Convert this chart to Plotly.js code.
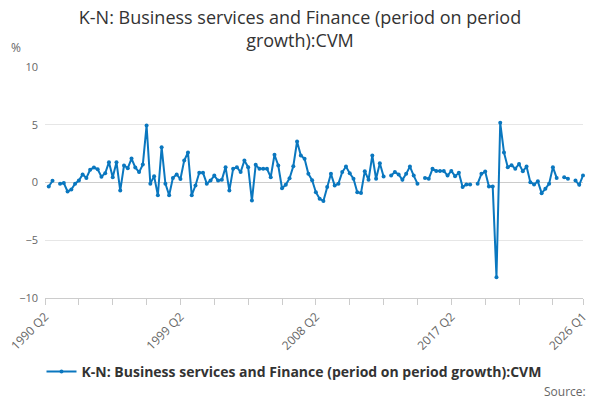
<!DOCTYPE html>
<html>
<head>
<meta charset="utf-8">
<script src="https://cdn.plot.ly/plotly-3.0.1.min.js"></script>
<style>
  body { margin: 0; background: #fff; }
  #chart { width: 600px; height: 400px; }
</style>
</head>
<body>
<div id="chart"></div>
<script>
// quarterly series, 1990 Q2 .. 2026 Q1 (null = no value published)
let firstYear = 1990;
let firstQuarter = 2;
let growth = [
  null, -0.35, 0.15, null, -0.1, -0.05, -0.78, -0.6, -0.1, 0.17,
  0.7, 0.4, 1.1, 1.3, 1.15, 0.5, 0.8, 1.76, 0.46, 1.76,
  -0.7, 1.47, 1.24, 2.07, 1.3, 0.9, 1.55, 4.93, -0.1, 0.55,
  -1.1, 3.06, -0.1, -1.1, 0.4, 0.7, 0.3, 1.9, 2.6, -1.1,
  -0.26, 0.84, 0.84, -0.1, 0.17, 0.6, 0.17, 0.23, 1.33, -0.7,
  1.18, 1.33, 0.9, 1.9, 1.33, -1.56, 1.53, 1.18, 1.18, 1.18,
  0.46, 2.4, 1.47, -0.5, -0.2, 0.37, 1.41, 3.55, 2.34, 2.05,
  0.75, 0.2, -0.84, -1.41, -1.6, -0.4, 0.75, -0.26, -0.1, 0.9,
  1.38, 0.8, 0.32, -0.84, -0.9, 0.98, 0.23, 2.34, 0.32, 1.67,
  0.52, null, 0.6, 0.9, 0.7, 0.23, 0.75, 1.38, 0.6, -0.1,
  null, 0.4, 0.32, 1.18, 1.0, 1.0, 1.0, 0.6, 1.0, 0.55,
  0.84, -0.4, -0.17, -0.17, null, -0.1, 0.75, 0.95, -0.35, -0.35,
  -8.2, 5.17, 2.6, 1.33, 1.5, 1.2, 1.6, 0.98, 1.38, 0.03,
  -0.17, 0.1, -0.92, -0.55, -0.1, 1.33, 0.4, null, 0.46, 0.32,
  null, 0.17, -0.2, 0.6
];

let quarters = [];
for (let k = 0; k < growth.length; k++) {
  let q = firstQuarter - 1 + k;
  quarters.push((firstYear + Math.floor(q / 4)) + " Q" + ((q % 4) + 1));
}

let labelledTicks = ["1990 Q2", "1999 Q2", "2008 Q2", "2017 Q2", "2026 Q1"];
let tickEvery = 9; // small tick marks between the labels

let tickVals = [];
let tickText = [];
quarters.forEach(function (q, k) {
  if (k % tickEvery === 0 || labelledTicks.includes(q)) {
    tickVals.push(q);
    tickText.push(labelledTicks.includes(q) ? q : "");
  }
});

let seriesName = "K-N: Business services and Finance (period on period growth):CVM";
let blue = "#0a77bf";

let trace = {
  x: quarters,
  y: growth,
  type: "scatter",
  mode: "lines+markers",
  name: "<b>" + seriesName + "</b>",
  connectgaps: false,
  cliponaxis: false,
  line: { color: blue, width: 2 },
  marker: { color: blue, size: 4 },
};

let layout = {
  width: 600,
  height: 400,
  paper_bgcolor: "#fff",
  plot_bgcolor: "#fff",
  font: { family: "Open Sans, Liberation Sans, sans-serif", color: "#666" },
  margin: { l: 45, r: 17, t: 67, b: 102 },
  title: {
    text: "K-N: Business services and Finance (period on period<br>growth):CVM",
    font: { size: 18, color: "#333" },
    x: 0.5,
    xanchor: "center",
    y: 0.94,
    yanchor: "top",
  },
  xaxis: {
    type: "category",
    range: [0, growth.length - 1],
    automargin: false,
    tickmode: "array",
    tickvals: tickVals,
    ticktext: tickText,
    tickangle: -45,
    ticks: "outside",
    ticklen: 6,
    tickcolor: "#ccc",
    tickfont: { size: 12, color: "#666" },
    showgrid: false,
    showline: true,
    linecolor: "#ccc",
    linewidth: 1,
    zeroline: false,
  },
  yaxis: {
    range: [-10, 10],
    automargin: false,
    tickvals: [-10, -5, 0, 5, 10],
    ticks: "",
    ticklabelstandoff: 6,
    tickfont: { size: 11, color: "#666" },
    showgrid: true,
    gridcolor: "#e6e6e6",
    zeroline: true,
    zerolinecolor: "#ccc",
    zerolinewidth: 1,
    showline: false,
  },
  showlegend: true,
  legend: {
    orientation: "h",
    xref: "container",
    yref: "container",
    x: 0.49,
    xanchor: "center",
    y: 0.11,
    yanchor: "top",
    font: { size: 14, color: "#333" },
  },
  annotations: [
    {
      text: "%",
      xref: "paper",
      yref: "paper",
      x: -0.067,
      y: 1.039,
      xanchor: "left",
      yanchor: "bottom",
      showarrow: false,
      font: { size: 12, color: "#666" },
    },
    {
      text: "Source:",
      xref: "paper",
      yref: "paper",
      x: 1.01,
      y: -0.36,
      xanchor: "right",
      yanchor: "top",
      showarrow: false,
      font: { size: 12, color: "#666" },
    },
  ],
};

Plotly.newPlot("chart", [trace], layout, { staticPlot: true, displayModeBar: false });
</script>
</body>
</html>
